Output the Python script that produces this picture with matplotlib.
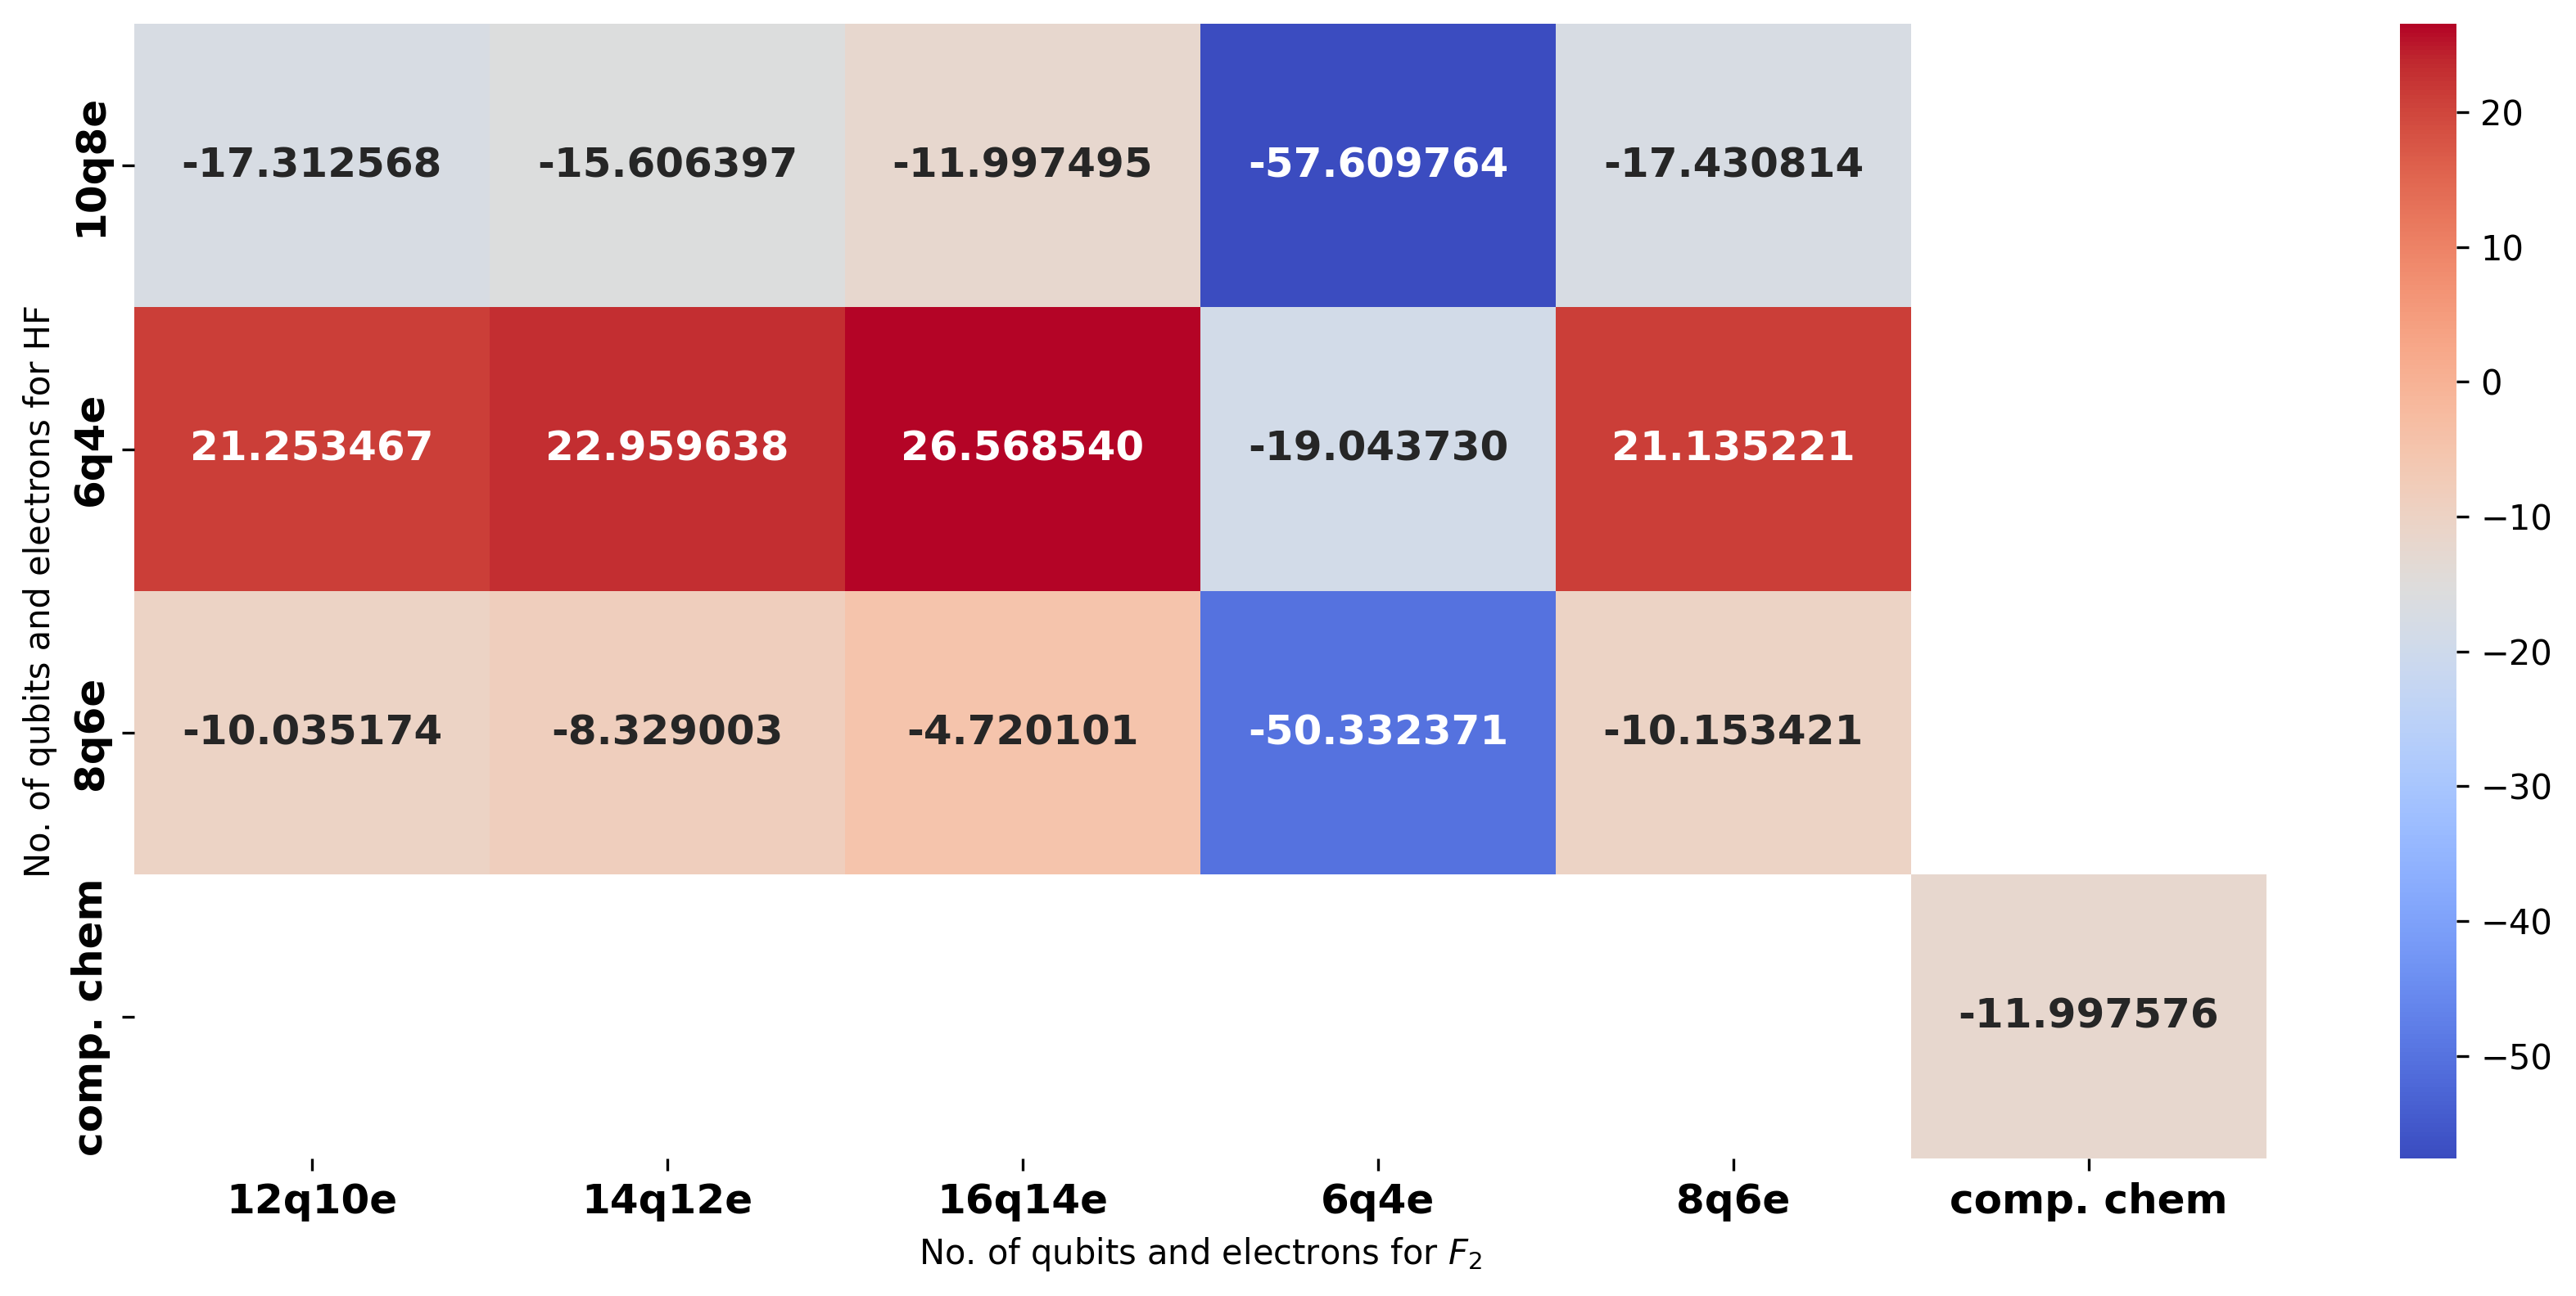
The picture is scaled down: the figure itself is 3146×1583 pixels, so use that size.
import numpy as np
import pandas as pd
import matplotlib
matplotlib.use("Agg")
import matplotlib.pyplot as plt
import seaborn as sns

# F2 active spaces (columns) and HF active spaces (rows)
f2_labels = ["12q10e", "14q12e", "16q14e", "6q4e", "8q6e", "comp. chem"]
hf_labels = ["10q8e", "6q4e", "8q6e", "comp. chem"]

row_10q8e = [-17.312568, -15.606397, -11.997495, -57.609764, -17.430814, np.nan]
row_6q4e = [21.253467, 22.959638, 26.568540, -19.043730, 21.135221, np.nan]
row_8q6e = [-10.035174, -8.329003, -4.720101, -50.332371, -10.153421, np.nan]
row_comp = [np.nan, np.nan, np.nan, np.nan, np.nan, -11.997576]

df = pd.DataFrame([row_10q8e, row_6q4e, row_8q6e, row_comp],
                  index=hf_labels, columns=f2_labels)

fig = plt.figure(figsize=(10.487, 5.277))
ax = fig.add_axes([0.0521, 0.1061, 0.8277, 0.8756])
cax = fig.add_axes([0.9317, 0.1061, 0.0219, 0.8756])

sns.heatmap(df, annot=True, fmt="f", cmap="coolwarm", ax=ax, cbar_ax=cax,
            annot_kws={"weight": "bold", "size": 12})

ax.set_xticklabels(ax.get_xticklabels(), fontsize=12, fontweight="bold", rotation=0)
ax.set_yticklabels(ax.get_yticklabels(), fontsize=12, fontweight="bold", rotation=90,
                   va="center")
ax.set_xlabel("No. of qubits and electrons for $F_2$", fontsize=10)
ax.set_ylabel("No. of qubits and electrons for HF", fontsize=10)
cax.tick_params(labelsize=10)

plt.savefig("out.png", dpi=300)
